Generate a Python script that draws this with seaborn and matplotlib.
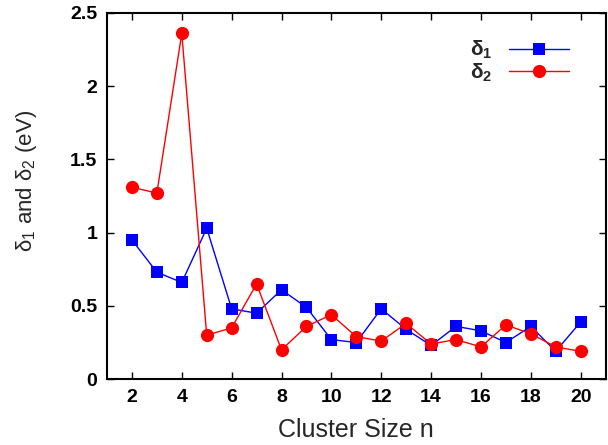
import matplotlib
matplotlib.use("Agg")
import matplotlib.pyplot as plt
import seaborn as sns
import pandas as pd

# Cluster sizes and the two energy differences (eV)
sizes = list(range(2, 21))
delta1 = [0.95, 0.73, 0.66, 1.03, 0.48, 0.45, 0.61, 0.49, 0.27, 0.25,
          0.48, 0.34, 0.23, 0.36, 0.33, 0.25, 0.36, 0.19, 0.39]
delta2 = [1.31, 1.27, 2.36, 0.30, 0.35, 0.65, 0.20, 0.36, 0.44, 0.29,
          0.26, 0.38, 0.24, 0.27, 0.22, 0.37, 0.31, 0.22, 0.19]

x_ticks = [2, 4, 6, 8, 10, 12, 14, 16, 18, 20]
y_ticks = [0, 0.5, 1, 1.5, 2, 2.5]
y_tick_labels = ["0", "0.5", "1", "1.5", "2", "2.5"]

sns.set_theme(style="white")
plt.rcParams["font.family"] = ["Liberation Sans", "DejaVu Sans"]
plt.rcParams["mathtext.fontset"] = "custom"
plt.rcParams["mathtext.rm"] = "Liberation Sans"
plt.rcParams["mathtext.it"] = "Liberation Sans:italic"
plt.rcParams["mathtext.bf"] = "Liberation Sans:bold"

df = pd.DataFrame({"n": sizes, "d1": delta1, "d2": delta2})

fig = plt.figure(figsize=(6.08, 4.45), dpi=100)
ax = fig.add_axes([0.176, 0.148, 0.820, 0.823])

sns.lineplot(data=df, x="n", y="d1", ax=ax, color="#0000ff", marker="s",
             markersize=9.0, markeredgewidth=0, linewidth=1.0, label="δ$_\\mathbf{1}$")
sns.lineplot(data=df, x="n", y="d2", ax=ax, color="#ff0000", marker="o",
             markersize=9.5, markeredgewidth=0, linewidth=1.0, label="δ$_\\mathbf{2}$")

ax.set_xlim(1, 21)
ax.set_ylim(0, 2.5)
ax.set_xticks(x_ticks)
ax.set_yticks(y_ticks)
ax.set_yticklabels(y_tick_labels)
for lab in ax.get_xticklabels() + ax.get_yticklabels():
    lab.set_fontweight("bold")
    lab.set_fontsize(14)

ax.tick_params(axis="both", which="both", direction="in", length=5, width=1,
               top=True, right=True, bottom=True, left=True, colors="black",
               pad=7)
for s in ax.spines.values():
    s.set_visible(True)
    s.set_color("black")
    s.set_linewidth(1.5)

ax.set_xlabel("Cluster Size n", fontsize=18)
ax.set_ylabel("δ$_1$ and δ$_2$ (eV)", fontsize=16)
ax.xaxis.set_label_coords(0.5, -0.105)
ax.yaxis.set_label_coords(-0.136, 0.54)

leg = ax.legend(loc="upper right", bbox_to_anchor=(0.965, 0.98), frameon=False,
                markerfirst=False, handlelength=2.9, handletextpad=0.8,
                labelspacing=0.0, prop={"size": 15, "weight": "bold"})

fig.savefig("out.png", dpi=100)
